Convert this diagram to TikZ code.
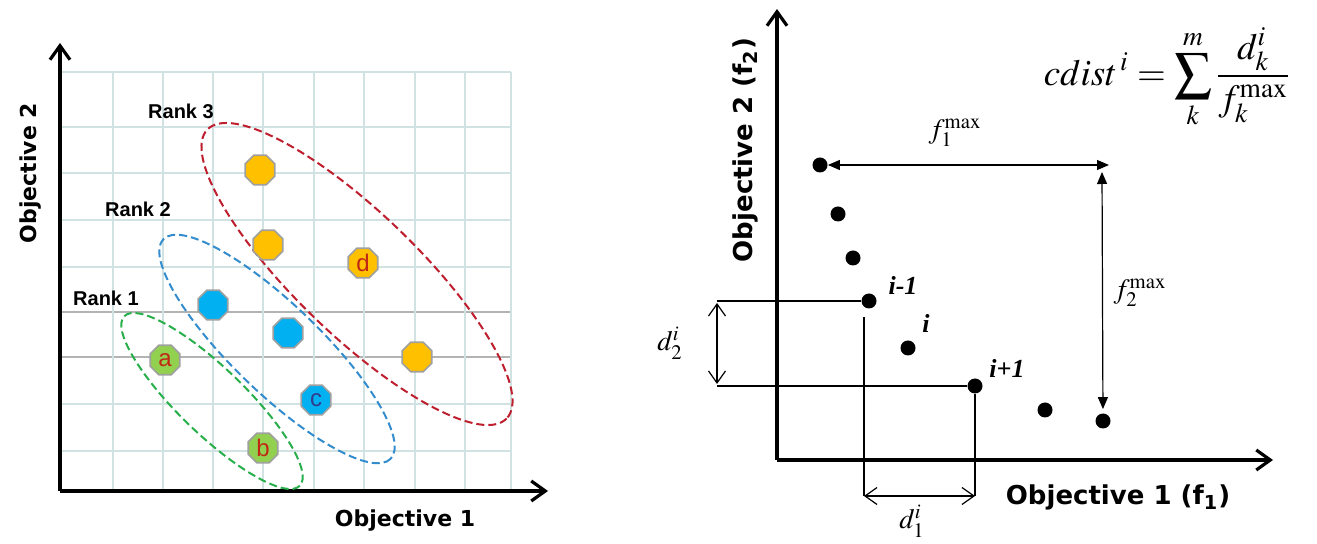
\documentclass[tikz,border=0pt]{standalone}
\usepackage{mathptmx}
\usepackage[no-math]{fontspec}
\setmainfont{Liberation Serif}
\setsansfont{DejaVu Sans}
\newfontfamily\arialfont{Liberation Sans}
\usepackage{tikz}
\usetikzlibrary{arrows.meta}
\usetikzlibrary{shapes.geometric}
\definecolor{gridcol}{RGB}{208,226,226}
\definecolor{griddark}{RGB}{178,180,180}
\definecolor{solyellow}{RGB}{255,192,0}
\definecolor{solblue}{RGB}{0,176,240}
\definecolor{solgreen}{RGB}{146,208,80}
\definecolor{solrim}{RGB}{160,160,160}
\definecolor{letterred}{RGB}{192,40,20}
\definecolor{letterblue}{RGB}{50,60,140}
\definecolor{ringred}{RGB}{190,30,45}
\definecolor{ringblue}{RGB}{50,140,205}
\definecolor{ringgreen}{RGB}{40,175,75}

\begin{document}
\begin{tikzpicture}[x=0.5pt,y=-0.5pt,
  gridline/.style={color=gridcol, line width=1pt},
  darkgrid/.style={color=griddark, line width=1pt},
  axis/.style={line width=1.8pt, -{Straight Barb[length=7pt,width=10pt,line width=1.6pt]}},
  sol/.style={regular polygon, regular polygon sides=8, minimum size=16pt, inner sep=0pt, draw=solrim, line width=0.8pt, font=\arialfont\fontsize{12}{12}\selectfont},
  rank/.style={dash pattern=on 4pt off 2pt, line width=1pt},
  ranklabel/.style={font=\arialfont\bfseries\fontsize{10}{10}\selectfont},
  objlabel/.style={font=\sffamily\bfseries\fontsize{11}{11}\selectfont},
  objbig/.style={font=\sffamily\bfseries\fontsize{13}{13}\selectfont},
  fdot/.style={circle, fill=black, inner sep=0pt, minimum size=7.5pt},
  ptlabel/.style={font=\bfseries\itshape\fontsize{13}{13}\selectfont},
  mathlabel/.style={font=\fontsize{14}{14}\selectfont},
  dimline/.style={line width=0.6pt},
  barbs/.style={{Straight Barb[length=6pt,width=8.5pt]}-{Straight Barb[length=6pt,width=8.5pt]}},
  tips/.style={{Triangle[length=6pt,width=5pt]}-{Triangle[length=6pt,width=5pt]}}]
\useasboundingbox (0,0) rectangle (1317,544);

\draw [gridline] (60,72) -- (511,72);
\draw [gridline] (60,127) -- (511,127);
\draw [gridline] (60,173) -- (511,173);
\draw [gridline] (60,220) -- (511,220);
\draw [gridline] (60,267) -- (511,267);
\draw [darkgrid] (60,312) -- (511,312);
\draw [darkgrid] (60,357) -- (511,357);
\draw [gridline] (60,404) -- (511,404);
\draw [gridline] (60,451) -- (511,451);
\draw [gridline] (113,72) -- (113,491);
\draw [gridline] (163,72) -- (163,491);
\draw [gridline] (213,72) -- (213,491);
\draw [gridline] (263,72) -- (263,491);
\draw [gridline] (314,72) -- (314,491);
\draw [gridline] (364,72) -- (364,491);
\draw [gridline] (415,72) -- (415,491);
\draw [gridline] (465,72) -- (465,491);
\draw [gridline] (511,72) -- (511,491);

\coordinate (o1) at (60,491);
\coordinate (yend1) at (60,43);
\coordinate (xend1) at (548,491);
\draw [axis] (o1) -- (yend1);
\draw [axis] (o1) -- (xend1);

\draw [rank, ringred, rotate around={-44:(357,274)}] (357,274) ellipse [x radius=208, y radius=61];
\draw [rank, ringblue, rotate around={-44:(277,349)}] (277,349) ellipse [x radius=158, y radius=44];
\draw [rank, ringgreen, rotate around={-44:(212,401)}] (212,401) ellipse [x radius=122, y radius=33];

\node [sol, fill=solyellow] (y1) at (260,170) {};
\node [sol, fill=solyellow] (y2) at (268,245) {};
\node [sol, fill=solyellow, text=letterred] (d) at (363,263) {d};
\node [sol, fill=solyellow] (y4) at (417,357) {};
\node [sol, fill=solblue] (b1) at (213,305) {};
\node [sol, fill=solblue] (b2) at (288,333) {};
\node [sol, fill=solblue, text=letterblue] (c) at (316,400) {c};
\node [sol, fill=solgreen, text=letterred] (a) at (165,360) {a};
\node [sol, fill=solgreen, text=letterred] (b) at (263,448) {b};

\node [ranklabel] (r3) at (181,111) {Rank 3};
\node [ranklabel] (r2) at (138,209) {Rank 2};
\node [ranklabel] (r1) at (106,298) {Rank 1};
\node [objlabel] (ox) at (405,521) {Objective 1};
\node [objlabel, rotate=90] (oy) at (31,173) {Objective 2};

\coordinate (o2) at (777,460);
\coordinate (yend2) at (777,9);
\coordinate (xend2) at (1273,460);
\draw [axis] (o2) -- (yend2);
\draw [axis] (o2) -- (xend2);
\node [objbig] (rx) at (1118,497) {Objective 1 (f\textsubscript{1})};
\node [objbig, rotate=90] (ry) at (745,150) {Objective 2 (f\textsubscript{2})};

\node [fdot] (p1) at (820,165) {};
\node [fdot] (p2) at (838,214) {};
\node [fdot] (p3) at (853,258) {};
\node [fdot] (p4) at (869,301) {};
\node [fdot] (p5) at (908,348) {};
\node [fdot] (p6) at (975,386) {};
\node [fdot] (p7) at (1045,410) {};
\node [fdot] (p8) at (1103,421) {};
\node [ptlabel] (l4) at (903,285) {i-1};
\node [ptlabel] (l5) at (926,323) {i};
\node [ptlabel] (l6) at (1007,368) {i+1};

\coordinate (f1r) at (1109,165);
\coordinate (f2t) at (1102,172);
\draw [dimline, tips] (p1) -- (f1r);
\draw [dimline, tips, shorten >=2pt] (f2t) -- (p8);
\node [mathlabel] (f1lab) at (955,133) {$f_1^{\max}$};
\node [mathlabel] (f2lab) at (1140,293) {$f_2^{\max}$};

\coordinate (h1) at (717,301);
\coordinate (h2) at (717,386);
\coordinate (v1t) at (864,317);
\coordinate (v1b) at (864,496);
\coordinate (v2b) at (975,496);
\draw [dimline] (h1) -- (p4);
\draw [dimline] (h2) -- (p6);
\draw [dimline] (v1t) -- (v1b);
\draw [dimline] (p6) -- (v2b);
\draw [dimline, barbs, shorten <=1pt, shorten >=1pt] (h1) -- (h2);
\draw [dimline, barbs] (v1b) -- (v2b);
\node [mathlabel] (d2lab) at (670,343) {$d_2^i$};
\node [mathlabel] (d1lab) at (912,521) {$d_1^i$};

\node [font=\fontsize{18.5}{18.5}\selectfont] (cd) at (1167,78) {$\displaystyle cdist^{\,i}=\sum_{k}^{m}\frac{d_k^i}{f_k^{\max}}$};
\end{tikzpicture}
\end{document}
